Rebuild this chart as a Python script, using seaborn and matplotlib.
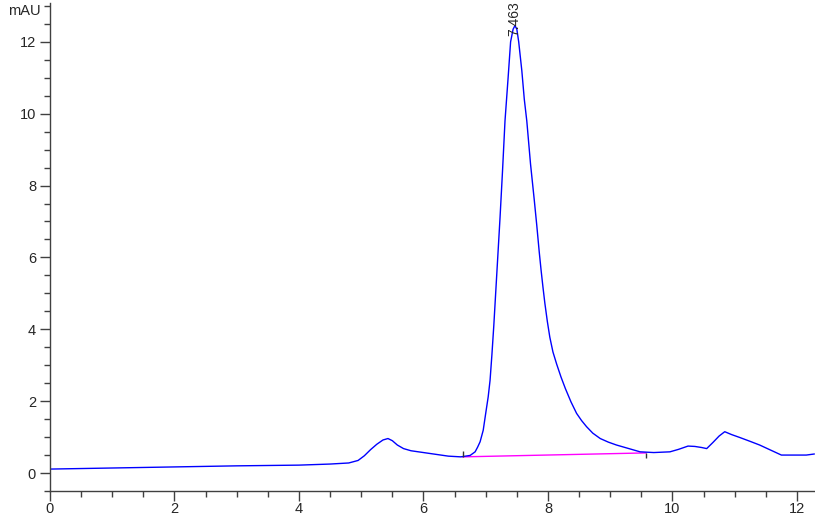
import numpy as np
import pandas as pd
import seaborn as sns
import matplotlib.pyplot as plt
from matplotlib.ticker import MultipleLocator

# chromatogram trace (time in min, signal in mAU)
time_min = [0.0, 1.0, 2.0, 3.0, 4.0, 4.5, 4.8, 4.95, 5.05, 5.15, 5.25, 5.35, 5.43,
            5.5, 5.58, 5.68, 5.8, 6.0, 6.2, 6.4, 6.6, 6.75, 6.83, 6.87, 6.91, 6.96,
            7.0, 7.04, 7.07, 7.10, 7.13, 7.16, 7.20, 7.23, 7.27, 7.31, 7.36, 7.40, 7.44,
            7.47, 7.50, 7.53, 7.58, 7.62, 7.66, 7.72, 7.78, 7.82, 7.86, 7.89, 7.92, 7.95,
            7.99, 8.03, 8.08, 8.14, 8.21, 8.28, 8.37, 8.46, 8.54, 8.62, 8.72, 8.84,
            8.97, 9.10, 9.30, 9.48, 9.7, 9.96,
            10.1, 10.25, 10.36, 10.47, 10.55, 10.65, 10.75, 10.84, 10.95, 11.08,
            11.25, 11.4, 11.6, 11.75, 12.0, 12.15, 12.28]
signal_mau = [0.11, 0.14, 0.17, 0.20, 0.22, 0.25, 0.28, 0.35, 0.48, 0.65, 0.80, 0.92, 0.96,
              0.90, 0.78, 0.68, 0.62, 0.57, 0.52, 0.47, 0.45, 0.49, 0.59, 0.72, 0.87, 1.19,
              1.66, 2.12, 2.58, 3.3, 4.1, 5.0, 6.2, 7.1, 8.4, 9.8, 11.0, 12.0, 12.35,
              12.45, 12.35, 12.0, 11.2, 10.4, 9.8, 8.6, 7.6, 6.9, 6.15, 5.64, 5.17, 4.73,
              4.22, 3.78, 3.37, 3.03, 2.67, 2.35, 1.98, 1.66, 1.46, 1.29, 1.11, 0.96,
              0.86, 0.78, 0.68, 0.59, 0.57, 0.59,
              0.66, 0.75, 0.74, 0.71, 0.68, 0.85, 1.03, 1.15, 1.07, 0.99,
              0.88, 0.78, 0.62, 0.50, 0.50, 0.50, 0.53]

# integration baseline under the main peak
baseline_x = [6.63, 9.58]
baseline_y = [0.45, 0.56]

peak_rt = 7.463
peak_label = "7.463"

trace = pd.DataFrame({"time": time_min, "mAU": signal_mau})
base = pd.DataFrame({"time": baseline_x, "mAU": baseline_y})

sns.set_style("ticks")
plt.rcParams["font.family"] = ["Liberation Sans", "DejaVu Sans"]

fig = plt.figure(figsize=(8.15, 5.15), dpi=100)
ax = fig.add_axes([0.0613, 0.0466, 0.9387, 0.9476])

sns.lineplot(data=base, x="time", y="mAU", color="#ff00ff", lw=1, ax=ax)
sns.lineplot(data=trace, x="time", y="mAU", color="#0000ff", lw=1, ax=ax)

# small ticks at baseline start / end
ax.vlines(baseline_x[0], baseline_y[0], baseline_y[0] + 0.15, color="#333333", lw=1)
ax.vlines(baseline_x[1], baseline_y[1] - 0.15, baseline_y[1], color="#333333", lw=1)

ax.text(peak_rt, 12.17, peak_label, rotation=90, ha="center", va="bottom", fontsize=10)

ax.set_xlim(0, 12.29)
ax.set_ylim(-0.5, 13.08)
ax.xaxis.set_major_locator(MultipleLocator(2))
ax.xaxis.set_minor_locator(MultipleLocator(0.5))
ax.yaxis.set_major_locator(MultipleLocator(2))
ax.yaxis.set_minor_locator(MultipleLocator(0.5))
ax.set_xlabel("")
ax.set_ylabel("")

for side in ["top", "right"]:
    ax.spines[side].set_visible(False)
for side in ["left", "bottom"]:
    ax.spines[side].set_color("#404040")
    ax.spines[side].set_linewidth(1)
ax.tick_params(which="major", length=7, width=1, color="#404040", labelsize=10.5, pad=3)
ax.tick_params(axis="x", which="major", labelsize=10.5, pad=1)
ax.tick_params(which="minor", length=4, width=1, color="#404040")

fig.text(8 / 815, 1 - 11 / 515, "mAU", fontsize=10.5, ha="left", va="center")

fig.savefig("out.png", dpi=100)
